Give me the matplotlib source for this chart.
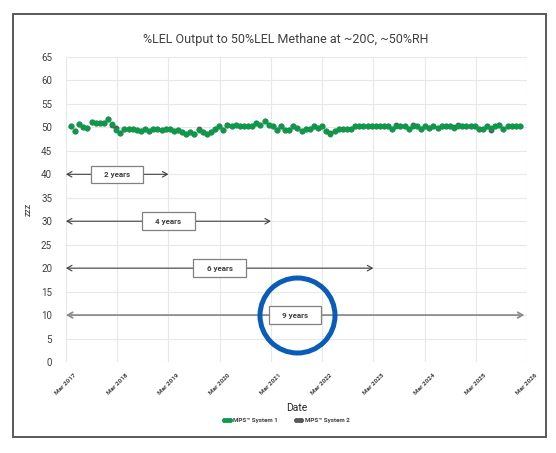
import matplotlib
matplotlib.use("Agg")
import matplotlib.pyplot as plt
import matplotlib.dates as mdates
from matplotlib.patches import Rectangle
from matplotlib.lines import Line2D
import pandas as pd

plt.rcParams['font.family'] = ['Roboto', 'DejaVu Sans']

title = "%LEL Output to 50%LEL Methane at ~20C, ~50%RH"
series_names = ["MPS\u2122 System 1", "MPS\u2122 System 2"]

# readings (about one every month)
system1 = [50.2, 49.2, 50.7, 50.0, 49.8, 51.2, 51.0, 51.0, 51.0, 51.7,
           50.7, 49.5, 48.9, 49.6, 49.6, 49.6, 49.4, 49.2, 49.6, 49.2,
           49.6, 49.6, 49.5, 49.7, 49.6, 49.2, 49.5, 49.1, 48.5, 49.0,
           48.5, 49.4, 49.0, 48.5, 49.1, 49.6, 50.2, 49.4, 50.6, 50.2,
           50.6, 50.2, 50.2, 50.2, 50.2, 51.0, 50.6, 51.3, 50.6, 50.2,
           49.4, 50.2, 49.4, 49.4, 50.2, 49.8, 49.2, 49.6, 49.6, 50.2,
           49.8, 50.2, 49.2, 48.5, 49.3, 49.6, 49.6, 49.6, 49.6, 50.2,
           50.2, 50.2, 50.2, 50.2, 50.2, 50.2, 50.2, 50.2, 49.6, 50.2,
           50.2, 50.2, 49.6, 50.2, 50.2, 49.6, 50.2, 49.8, 50.2, 49.8,
           50.2, 50.2, 50.2, 49.8, 50.2, 50.2, 50.2, 50.2, 50.2, 49.6,
           49.6, 50.2, 49.8, 50.2, 50.6, 49.6, 50.2, 50.2, 50.2, 50.2]
system2 = [50.2, 49.2, 50.7, 50.0, 49.8, 51.2, 51.0, 51.0, 51.0, 51.7,
           50.4, 49.9, 48.9, 49.6, 49.6, 49.6, 49.4, 49.2, 49.6, 49.2,
           49.6, 49.6, 49.5, 49.7, 49.6, 49.2, 49.5, 49.1, 48.5, 49.0,
           48.5, 49.7, 49.0, 48.5, 49.1, 49.6, 50.2, 49.4, 50.6, 50.2,
           50.6, 50.2, 50.2, 50.2, 50.2, 51.0, 50.6, 51.3, 50.6, 50.2,
           49.4, 50.2, 49.4, 49.4, 50.2, 49.8, 49.2, 49.6, 49.6, 50.2,
           49.8, 50.2, 49.2, 48.8, 49.3, 49.6, 49.6, 49.6, 49.6, 50.2,
           50.2, 50.2, 50.2, 50.2, 50.2, 50.2, 50.2, 50.2, 49.6, 50.4,
           50.2, 50.2, 49.6, 50.5, 50.2, 49.6, 50.2, 49.8, 50.2, 49.8,
           50.2, 50.2, 50.2, 50.0, 50.5, 50.2, 50.2, 50.2, 50.2, 49.6,
           49.6, 50.2, 49.5, 50.2, 50.6, 49.6, 50.2, 50.2, 50.2, 50.2]
dates = pd.date_range("2017-04-05", "2026-01-10", periods=len(system1))

tick_dates = pd.date_range("2017-03-01", "2026-03-01", freq="12MS")
tick_labels = [d.strftime("Mar %Y") for d in tick_dates]

spans = ["2 years", "4 years", "6 years", "9 years"]
span_ends = ["2019-03-01", "2021-03-01", "2023-03-01", "2026-02-10"]
span_levels = [40, 30, 20, 10]
span_start = "2017-03-01"

green = "#0c9a4a"
grey = "#595959"

fig = plt.figure(figsize=(5.56, 4.53), dpi=100)
fig.patches.append(Rectangle((13 / 556, 1 - 437 / 453), 533 / 556, 423 / 453,
                             transform=fig.transFigure, fill=False,
                             edgecolor="#595959", lw=1.4))
ax = fig.add_axes([0.1187, 0.2009, 0.8291, 0.6733])

ax.plot(dates, system2, "o", ms=3.2, color=grey, zorder=3)
ax.plot(dates, system1, "o", ms=3.2, color=green, zorder=4)

for lab, end, lev in zip(spans, span_ends, span_levels):
    x0 = mdates.date2num(pd.Timestamp(span_start))
    x1 = mdates.date2num(pd.Timestamp(end))
    big = lab == "9 years"
    ax.annotate("", xy=(x0, lev), xytext=(x1, lev),
                arrowprops=dict(arrowstyle="<->,head_length=0.35,head_width=0.2",
                                color="#8c8c8c" if big else "#404040",
                                lw=1.3 if big else 0.8, shrinkA=0, shrinkB=0),
                zorder=5)
    ax.text((x0 + x1) / 2, lev, "    " + lab + "    ", ha="center", va="center",
            fontsize=5.8, fontweight="bold", color="#404040", zorder=6,
            bbox=dict(boxstyle="square,pad=0.65", fc="white", ec="#808080", lw=0.9))

circle_x = mdates.date2num(pd.Timestamp("2021-09-01"))
ax.plot([circle_x], [10], "o", ms=54, mfc="none", mec="#0a5cb8", mew=3.6, zorder=7)

ax.set_xlim(tick_dates[0], tick_dates[-1])
ax.set_ylim(0, 65)
ax.set_yticks(range(0, 66, 5))
ax.set_xticks(tick_dates)
ax.set_xticklabels(tick_labels, rotation=45, ha="center", va="top",
                   fontsize=4.6, fontweight="bold", color="#404040")
ax.tick_params(axis="y", length=0, pad=10, labelsize=7, labelcolor="#404040")
ax.tick_params(axis="x", length=0, pad=8)
ax.grid(True, color="#e8e8e8", lw=0.8)
ax.set_axisbelow(True)
for s in ax.spines.values():
    s.set_visible(False)

ax.set_xlabel("Date", fontsize=7.5, color="#262626", labelpad=5)
ax.set_ylabel("zzz", fontsize=6.5, color="#404040", labelpad=6)
fig.text(286 / 556, 1 - 40 / 453, title, ha="center", va="center",
         fontsize=9, color="#404040")

handles = [Line2D([], [], ls="none", marker="o", ms=2.6, color=green),
           Line2D([], [], ls="none", marker="o", ms=2.6, color=grey)]
leg = fig.legend(handles, series_names, loc="center",
                 bbox_to_anchor=(286 / 556, 1 - 420 / 453),
                 ncol=2, frameon=False, fontsize=4.5, numpoints=3,
                 handlelength=1.5, handletextpad=0.3, columnspacing=2.5)
for t in leg.get_texts():
    t.set_fontweight("bold")
    t.set_color("#404040")

fig.savefig("out.png", dpi=100)
